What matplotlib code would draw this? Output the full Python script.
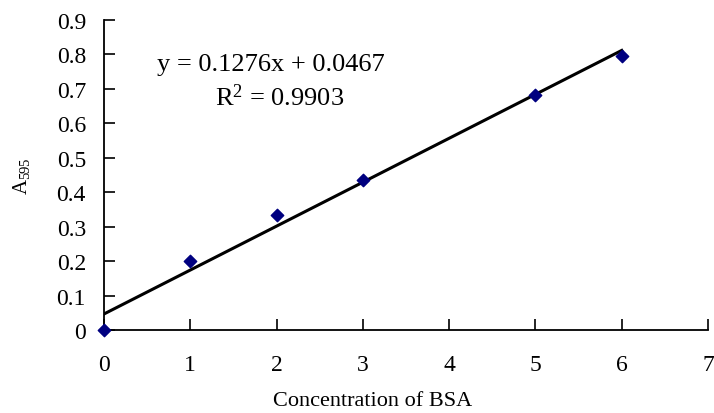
import matplotlib
matplotlib.use("Agg")
import matplotlib.pyplot as plt
import numpy as np

# BSA standard curve
conc = [0, 1, 2, 3, 5, 6]
absorb = [0.0, 0.200, 0.335, 0.435, 0.682, 0.795]
x_ticks = [0, 1, 2, 3, 4, 5, 6, 7]
y_ticks = [0, 0.1, 0.2, 0.3, 0.4, 0.5, 0.6, 0.7, 0.8, 0.9]
eq_text = "y = 0.1276x + 0.0467"
r2_text = r"R$^2$ = 0.9903"

serif = "Liberation Serif"
plt.rcParams["font.family"] = serif
plt.rcParams["mathtext.default"] = "regular"

fig = plt.figure(figsize=(7.14, 4.14), dpi=100)
ax = fig.add_axes([104 / 714, 1 - 331 / 414, 604 / 714, 310 / 414])

# linear trendline from the data
slope, icpt = np.polyfit(conc, absorb, 1)
xl = np.array([min(conc), max(conc)])
ax.plot(xl, slope * xl + icpt, color="black", lw=2.2, zorder=2)

ax.scatter(conc, absorb, marker="D", s=40, color="#000080", zorder=3,
           clip_on=False)

ax.set_xlim(0, 7)
ax.set_ylim(0, 0.9)
ax.set_xticks(x_ticks)
ax.set_yticks(y_ticks)
ax.set_xticklabels([str(t) for t in x_ticks], fontsize=17)
ax.set_yticklabels([("%g" % t) for t in y_ticks], fontsize=17)
ax.tick_params(direction="in", length=8, width=1.2)
ax.tick_params(axis="x", pad=17)
ax.tick_params(axis="y", pad=13)

for s in ["top", "right"]:
    ax.spines[s].set_visible(False)
for s in ["left", "bottom"]:
    ax.spines[s].set_linewidth(1.3)

ax.set_xlabel("Concentration of BSA", fontsize=16)
ax.xaxis.label.set_va("center")
ax.xaxis.set_label_coords((373 - 104) / 604, (331 - 402) / 310)
ax.set_ylabel(r"A$_{595}$", fontsize=15)
ax.yaxis.label.set_va("center")
ax.yaxis.set_label_coords((22 - 104) / 604, (331 - 176) / 310)

ax.text((157 - 104) / 604, (331 - 65) / 310, eq_text, transform=ax.transAxes,
        fontsize=19, va="center", ha="left")
ax.text((215 - 104) / 604, (331 - 98) / 310, r2_text, transform=ax.transAxes,
        fontsize=19, va="center", ha="left")

fig.savefig("out.png", dpi=100)
